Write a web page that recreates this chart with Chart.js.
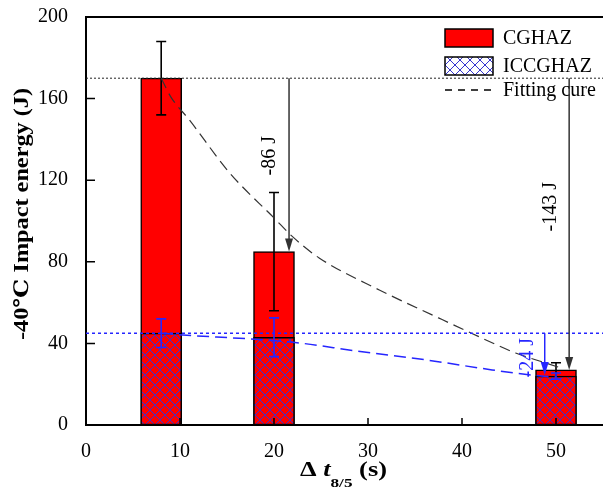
<!DOCTYPE html>
<html>
<head>
<meta charset="utf-8">
<script src="https://cdn.jsdelivr.net/npm/chart.js@4.4.1/dist/chart.umd.min.js"></script>
<style>
  html, body { margin: 0; padding: 0; background: #fff; overflow: hidden; }
  #wrap { position: relative; width: 603px; height: 489px; }
</style>
</head>
<body>
<div id="wrap"><canvas id="my-chart"></canvas></div>
<script>
'use strict';

//*********** data ***********
let coolTime = [8, 20, 50];              // Δt8/5 (s)
let cghazEnergy = [170, 85, 27];
let cghazError = [18, 29, 3.5];
let iccghazEnergy = [45, 43, 24];
let iccghazError = [7, 9.5, 1.5];

// fitting curves, sampled along the drawn dashed lines
let fitX = [8, 9, 11, 15.3, 20, 22, 24.8, 31.2, 37.5, 41, 45.7, 48.9, 50.5];
let fitY = [170, 161, 149.5, 123.5, 101.5, 92.2, 81.9, 66.2, 52.5, 45, 35.3, 30.4, 28];
let fitBlueX = [8, 10.3, 17.4, 22.7, 28.7, 36.2, 43.2, 47.4, 50];
let fitBlueY = [45, 44.1, 42.2, 40.2, 36.3, 31.9, 27, 24.5, 23.5];

// dotted reference levels (values at 8 s)
let refLevels = [170, 45];

// drop arrows and their labels
let dropX = [21.6, 51.4, 48.8];
let dropFrom = [170, 170, 45];
let dropTo = [85, 27, 24.5];
let dropText = ['-86 J', '-143 J', '-24 J'];
let dropTextX = [19.6, 49.4, 47.0];
let dropTextY = [132, 107, 33];

let xTicks = [0, 10, 20, 30, 40, 50];
let yTicks = [0, 40, 80, 120, 160, 200];

//*********** styles ***********
const serif = "'Liberation Serif', 'Times New Roman', 'DejaVu Serif', serif";
const red = '#ff0000';
const blue = '#2626ff';
const hatchBlue = '#3535d0';

// crisp 1px cross-hatch tile
function makeHatch(bg) {
  let c = document.createElement('canvas');
  c.width = 10; c.height = 10;
  let g = c.getContext('2d');
  g.fillStyle = bg; g.fillRect(0, 0, 10, 10);
  g.fillStyle = hatchBlue;
  for (let i = 0; i < 10; i++) {
    g.fillRect(i, i, 1, 1);
    g.fillRect(9 - i, i, 1, 1);
  }
  return g.createPattern(c, 'repeat');
}
let hatchRed = makeHatch(red);
let hatchWhite = makeHatch('#ffffff');

function drawErrors(ctx, xs, ys, xv, vals, errs, color) {
  ctx.save();
  ctx.strokeStyle = color;
  ctx.lineWidth = 1.6;
  for (let i = 0; i < xv.length; i++) {
    let px = xs.getPixelForValue(xv[i]);
    let top = ys.getPixelForValue(vals[i] + errs[i]);
    let bot = ys.getPixelForValue(vals[i] - errs[i]);
    ctx.beginPath();
    ctx.moveTo(px, top); ctx.lineTo(px, bot);
    ctx.moveTo(px - 5, top); ctx.lineTo(px + 5, top);
    ctx.moveTo(px - 5, bot); ctx.lineTo(px + 5, bot);
    ctx.stroke();
  }
  ctx.restore();
}

const decor = {
  id: 'decor',
  afterDatasetDraw(chart, args) {
    const {ctx, scales: {x, y}} = chart;
    let label = chart.data.datasets[args.index].label;
    if (label === 'CGHAZ') drawErrors(ctx, x, y, coolTime, cghazEnergy, cghazError, '#000');
    if (label === 'ICCGHAZ') drawErrors(ctx, x, y, coolTime, iccghazEnergy, iccghazError, blue);
  },
  afterDatasetsDraw(chart) {
    const {ctx, chartArea: a, scales: {x, y}} = chart;
    ctx.save();
    // dotted reference lines
    refLevels.forEach((lv, i) => {
      let py = y.getPixelForValue(lv);
      ctx.beginPath();
      ctx.setLineDash(i === 0 ? [2, 2] : [3, 3]);
      ctx.strokeStyle = i === 0 ? '#222' : blue;
      ctx.lineWidth = i === 0 ? 1 : 1.5;
      ctx.moveTo(a.left, py); ctx.lineTo(a.right, py);
      ctx.stroke();
    });
    ctx.setLineDash([]);
    // arrows
    for (let i = 0; i < dropX.length; i++) {
      let col = i === 2 ? blue : '#333';
      let px = x.getPixelForValue(dropX[i]);
      let p0 = y.getPixelForValue(dropFrom[i]);
      let p1 = y.getPixelForValue(dropTo[i]);
      ctx.strokeStyle = col; ctx.fillStyle = col; ctx.lineWidth = 1.5;
      ctx.beginPath(); ctx.moveTo(px, p0); ctx.lineTo(px, p1 - 10); ctx.stroke();
      ctx.beginPath();
      ctx.moveTo(px, p1); ctx.lineTo(px - 4, p1 - 13); ctx.lineTo(px + 4, p1 - 13);
      ctx.closePath(); ctx.fill();
      // label
      ctx.save();
      ctx.translate(x.getPixelForValue(dropTextX[i]), y.getPixelForValue(dropTextY[i]));
      ctx.rotate(-Math.PI / 2);
      ctx.font = '20px ' + serif;
      ctx.textAlign = 'center'; ctx.textBaseline = 'middle';
      ctx.fillStyle = i === 2 ? blue : '#000';
      ctx.fillText(dropText[i], 0, 0);
      ctx.restore();
    }
    ctx.restore();
  },
  afterDraw(chart) {
    const {ctx, chartArea: a, scales: {x, y}} = chart;
    ctx.save();
    // top frame line
    ctx.strokeStyle = '#000'; ctx.lineWidth = 2;
    ctx.beginPath(); ctx.moveTo(a.left, a.top); ctx.lineTo(a.right, a.top); ctx.stroke();
    // inward tick marks
    ctx.lineWidth = 1.5;
    ctx.beginPath();
    yTicks.forEach(v => { let py = y.getPixelForValue(v); ctx.moveTo(a.left, py); ctx.lineTo(a.left + 9, py); });
    xTicks.forEach(v => { let px = x.getPixelForValue(v); ctx.moveTo(px, a.bottom); ctx.lineTo(px, a.bottom - 7); });
    ctx.stroke();

    // legend
    let bx = a.right - 158, bw = 48, bh = 18;
    let rows = [a.top + 21, a.top + 49, a.top + 73];
    ctx.lineWidth = 1.5; ctx.strokeStyle = '#000';
    ctx.fillStyle = red; ctx.fillRect(bx, rows[0] - bh / 2, bw, bh);
    ctx.strokeRect(bx, rows[0] - bh / 2, bw, bh);
    ctx.fillStyle = hatchWhite; ctx.fillRect(bx, rows[1] - bh / 2, bw, bh);
    ctx.strokeRect(bx, rows[1] - bh / 2, bw, bh);
    ctx.setLineDash([7, 6]);
    ctx.beginPath(); ctx.moveTo(bx, rows[2]); ctx.lineTo(bx + bw, rows[2]); ctx.stroke();
    ctx.setLineDash([]);
    ctx.fillStyle = '#000';
    ctx.font = '20px ' + serif;
    ctx.textAlign = 'left'; ctx.textBaseline = 'middle';
    ['CGHAZ', 'ICCGHAZ', 'Fitting cure'].forEach((t, i) => ctx.fillText(t, bx + 58, rows[i] + 1));

    // y title, stretched along its length like the original
    let yTitle = '-40\u2103 Impact energy (J)';
    ctx.font = 'bold 20px ' + serif;
    let w = ctx.measureText(yTitle).width;
    ctx.save();
    ctx.translate(28, 214);
    ctx.rotate(-Math.PI / 2);
    ctx.scale(252 / w, 1);
    ctx.textAlign = 'center'; ctx.textBaseline = 'alphabetic';
    ctx.fillText(yTitle, 0, 0);
    ctx.restore();

    // x title: Δ t(8/5) (s)
    let parts = [
      {t: '\u0394 ', f: 'bold 20px ' + serif, dy: 0},
      {t: 't', f: 'italic bold 20px ' + serif, dy: 0},
      {t: '8/5', f: 'bold 13px ' + serif, dy: 11},
      {t: ' (s)', f: 'bold 20px ' + serif, dy: 0}
    ];
    let total = 0;
    parts.forEach(p => { ctx.font = p.f; p.w = ctx.measureText(p.t).width; total += p.w; });
    let target = 87, sx = target / total;
    ctx.save();
    ctx.translate((a.left + a.right) / 2 - target / 2 - 1, 476);
    ctx.scale(sx, 1);
    ctx.textAlign = 'left'; ctx.textBaseline = 'alphabetic';
    let cx = 0;
    parts.forEach(p => { ctx.font = p.f; ctx.fillText(p.t, cx, p.dy); cx += p.w; });
    ctx.restore();
    ctx.restore();
  }
};

let customerChart = document.getElementById('my-chart');

new Chart(customerChart, {
  type: 'bar',
  data: {
    datasets: [
      {
        type: 'line',
        label: 'Fitting cure',
        data: fitX.map((v, i) => ({x: v, y: fitY[i]})),
        borderColor: '#333',
        borderWidth: 1.2,
        borderDash: [11, 6],
        pointRadius: 0,
        cubicInterpolationMode: 'monotone',
        fill: false,
        order: 1
      },
      {
        type: 'line',
        label: 'ICCGHAZ fit',
        data: fitBlueX.map((v, i) => ({x: v, y: fitBlueY[i]})),
        borderColor: blue,
        borderWidth: 1.5,
        borderDash: [12, 6],
        pointRadius: 0,
        cubicInterpolationMode: 'monotone',
        fill: false,
        order: 2
      },
      {
        label: 'ICCGHAZ',
        data: coolTime.map((v, i) => ({x: v, y: iccghazEnergy[i]})),
        backgroundColor: hatchRed,
        borderColor: '#000',
        borderWidth: 1.5,
        borderSkipped: false,
        grouped: false,
        barThickness: 41,
        order: 3
      },
      {
        label: 'CGHAZ',
        data: coolTime.map((v, i) => ({x: v, y: cghazEnergy[i]})),
        backgroundColor: red,
        borderColor: '#000',
        borderWidth: 1.5,
        borderSkipped: false,
        grouped: false,
        barThickness: 41,
        order: 4
      }
    ]
  },
  options: {
    responsive: true,
    maintainAspectRatio: false,
    animation: false,
    layout: {padding: {top: 17, right: 0, left: 0, bottom: 0}},
    plugins: {legend: {display: false}, tooltip: {enabled: false}},
    scales: {
      x: {
        type: 'linear',
        min: 0,
        max: 55,
        offset: false,
        afterBuildTicks: s => { s.ticks = xTicks.map(v => ({value: v})); },
        afterFit: s => { s.height = 64; s.paddingLeft = 0; s.paddingRight = 0; },
        grid: {display: false, offset: false},
        border: {display: true, color: '#000', width: 2},
        ticks: {font: {family: serif, size: 20}, color: '#000', padding: 7, maxRotation: 0, autoSkip: false}
      },
      y: {
        min: 0,
        max: 200,
        afterBuildTicks: s => { s.ticks = yTicks.map(v => ({value: v})); },
        afterFit: s => { s.width = 86; s.paddingTop = 0; s.paddingBottom = 0; },
        grid: {display: false},
        border: {display: true, color: '#000', width: 2},
        ticks: {font: {family: serif, size: 20}, color: '#000', padding: 10}
      }
    }
  },
  plugins: [decor]
});
</script>
</body>
</html>
